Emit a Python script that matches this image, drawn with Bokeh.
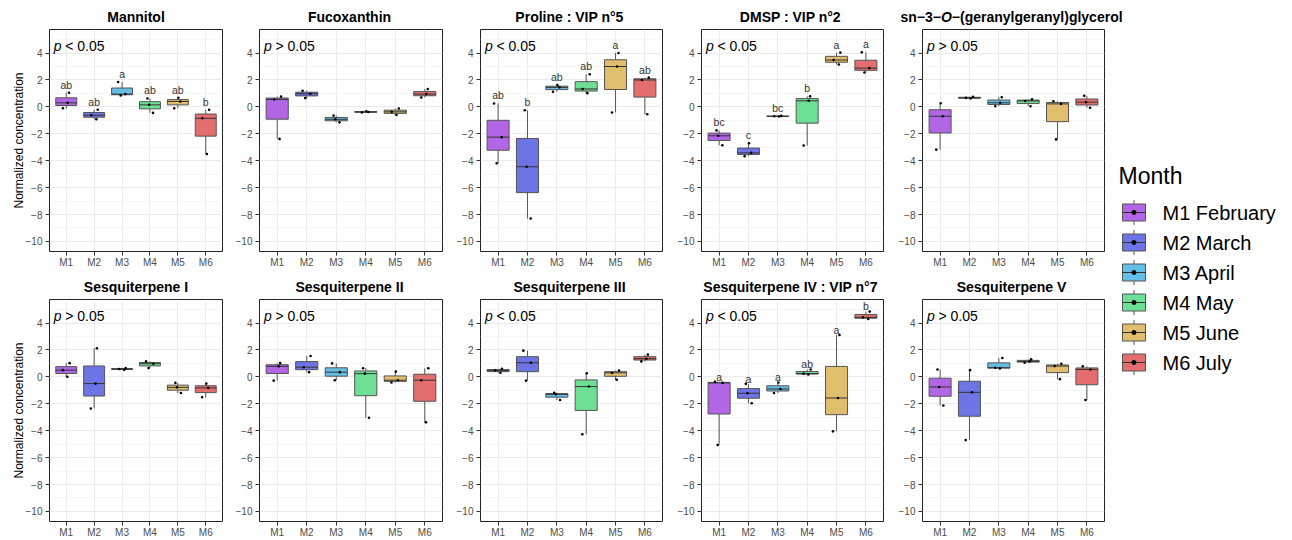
import numpy as np
from bokeh.plotting import figure
from bokeh.layouts import row, column
from bokeh.models import Range1d, FixedTicker, Label, ColumnDataSource
from bokeh.core.properties import value
from bokeh.embed import file_html
from bokeh.resources import INLINE

# ---------------- data ----------------
months = ["M1", "M2", "M3", "M4", "M5", "M6"]
month_names = ["M1 February", "M2 March", "M3 April", "M4 May", "M5 June", "M6 July"]
colors = ["#B266E6", "#6C74E6", "#64BEE6", "#6EE096", "#E1BE6E", "#E46E6E"]

titles = ["Mannitol", "Fucoxanthin", "Proline : VIP n°5", "DMSP : VIP n°2",
          "sn-3-O-(geranylgeranyl)glycerol",
          "Sesquiterpene I", "Sesquiterpene II", "Sesquiterpene III",
          "Sesquiterpene IV : VIP n°7", "Sesquiterpene V"]
p_texts = ["< 0.05", "> 0.05", "< 0.05", "< 0.05", "> 0.05",
           "> 0.05", "> 0.05", "< 0.05", "< 0.05", "> 0.05"]

mannitol = [[-0.10, 0.30, 1.05], [-0.92, -0.62, -0.22], [0.85, 0.95, 1.85],
            [-0.45, 0.15, 0.62], [-0.10, 0.40, 0.68], [-3.50, -0.85, -0.22]]
fucoxanthin = [[-2.38, 0.55, 0.76], [0.65, 0.98, 1.20], [-1.15, -0.92, -0.65],
               [-0.42, -0.38, -0.33], [-0.60, -0.37, -0.12], [0.70, 0.95, 1.32]]
proline = [[-4.20, -2.25, 0.25], [-8.30, -4.45, -0.25], [1.12, 1.45, 1.62],
           [1.02, 1.33, 2.42], [-0.42, 3.00, 4.00], [-0.55, 2.00, 2.17]]
dmsp = [[-2.85, -2.15, -1.75], [-3.67, -3.42, -2.70], [-0.72, -0.70, -0.67],
        [-2.87, 0.45, 0.78], [3.15, 3.48, 4.03], [2.55, 2.88, 4.05]]
geranyl = [[-3.18, -0.70, 0.27], [0.62, 0.67, 0.75], [0.05, 0.30, 0.72],
           [0.05, 0.44, 0.57], [-2.42, 0.22, 0.42], [-0.07, 0.35, 0.82]]
sesq1 = [[0.00, 0.50, 1.02], [-2.35, -0.50, 2.12], [0.52, 0.58, 0.65],
         [0.65, 0.98, 1.15], [-1.20, -0.78, -0.45], [-1.52, -0.82, -0.50]]
sesq2 = [[-0.28, 0.78, 1.02], [0.35, 0.72, 1.55], [-0.25, 0.35, 1.00],
         [-3.04, 0.24, 0.64], [-0.42, -0.25, 0.39], [-3.38, -0.25, 0.64]]
sesq3 = [[0.30, 0.48, 0.60], [-0.28, 1.05, 1.95], [-1.72, -1.30, -1.18],
         [-4.27, -0.72, 0.27], [-0.22, 0.30, 0.47], [1.15, 1.35, 1.65]]
sesq4 = [[-5.07, -0.45, -0.37], [-1.96, -1.22, -0.52], [-1.20, -0.90, -0.42],
         [0.18, 0.24, 0.55], [-4.05, -1.57, 3.12], [4.30, 4.42, 4.85]]
sesq5 = [[-2.13, -0.75, 0.55], [-4.70, -1.15, 0.50], [0.62, 0.68, 1.40],
         [1.05, 1.15, 1.30], [-0.17, 0.80, 0.97], [-1.72, 0.55, 0.78]]

mannitol_letters = ["ab", "ab", "a", "ab", "ab", "b"]
proline_letters = ["ab", "b", "ab", "ab", "a", "ab"]
dmsp_letters = ["bc", "c", "bc", "b", "a", "a"]
sesq4_letters = ["a", "a", "a", "ab", "a", "b"]

y_ticks = [-10, -8, -6, -4, -2, 0, 2, 4]
y_minor = [-9, -7, -5, -3, -1, 1, 3, 5]

# ---------------- style ----------------
FONT = "Liberation Sans"
JIT = [(-0.12, 0.05, 0.10), (0.08, -0.10, 0.13), (-0.05, 0.12, -0.14),
       (0.11, -0.03, -0.09), (-0.13, 0.09, 0.02), (0.04, -0.12, 0.12)]
FRAME_H = 225
TOP, BOTTOM = 2, 16
STRIP_H = 27
TOTAL_W, TOTAL_H = 1292, 540
PANELS_W = 1116


def panel(k, vals, ptext, letters, letter_off, left, fw, right, ylabel=False):
    p = figure(width=left + fw + right, height=TOP + FRAME_H + BOTTOM,
               x_range=Range1d(0.4, 6.6), y_range=Range1d(-10.75, 5.75),
               output_backend="svg", toolbar_location=None,
               min_border_left=left, min_border_right=right,
               min_border_top=TOP, min_border_bottom=BOTTOM)
    p.outline_line_color = "#222222"
    p.outline_line_width = 1
    p.background_fill_color = "white"
    p.border_fill_color = "white"

    # axes
    p.xaxis.ticker = FixedTicker(ticks=[1, 2, 3, 4, 5, 6])
    p.xaxis.major_label_overrides = {i + 1: m for i, m in enumerate(months)}
    p.yaxis.ticker = FixedTicker(ticks=y_ticks, minor_ticks=y_minor)
    p.yaxis.major_label_overrides = {t: str(t).replace("-", "\u2212") for t in y_ticks}
    for ax in (p.xaxis[0], p.yaxis[0]):
        ax.axis_line_color = None
        ax.major_tick_line_color = "#333333"
        ax.major_tick_out = 4
        ax.major_tick_in = 0
        ax.minor_tick_line_color = None
        ax.major_label_text_font = FONT
        ax.major_label_text_font_size = "10px"
        ax.major_label_text_color = "#4D4D4D"
    p.xaxis.major_label_standoff = 1
    p.yaxis.major_label_standoff = 3
    if ylabel:
        p.yaxis.axis_label = "Normalized concentration"
        p.yaxis.axis_label_text_font = FONT
        p.yaxis.axis_label_text_font_size = "12px"
        p.yaxis.axis_label_text_font_style = "normal"
        p.yaxis.axis_label_text_color = "black"
        p.yaxis.axis_label_standoff = -3

    # grid
    p.xgrid.ticker = FixedTicker(ticks=[1, 2, 3, 4, 5, 6])
    p.xgrid.grid_line_color = "#EBEBEB"
    p.ygrid.grid_line_color = "#EBEBEB"
    p.ygrid.minor_grid_line_color = "#F0F0F0"
    p.ygrid.minor_grid_line_width = 0.7

    # box statistics
    arr = np.array(vals, dtype=float)
    q1 = np.percentile(arr, 25, axis=1)
    med = np.percentile(arr, 50, axis=1)
    q3 = np.percentile(arr, 75, axis=1)
    lo = arr.min(axis=1)
    hi = arr.max(axis=1)
    xs = np.arange(1, 7)
    hw = 0.375
    src = ColumnDataSource(dict(x=xs, q1=q1, med=med, q3=q3, lo=lo, hi=hi,
                                xl=xs - hw, xr=xs + hw, color=colors))
    p.segment(x0="x", y0="lo", x1="x", y1="q1", source=src, line_color="#555555", line_width=1)
    p.segment(x0="x", y0="q3", x1="x", y1="hi", source=src, line_color="#555555", line_width=1)
    p.vbar(x="x", width=2 * hw, bottom="q1", top="q3", source=src,
           fill_color="color", fill_alpha=1.0, line_color="#555555", line_width=1)
    p.segment(x0="xl", y0="med", x1="xr", y1="med", source=src, line_color="#333333", line_width=1)

    # jittered points
    px, py = [], []
    for g in range(6):
        js = JIT[(g + k) % 6]
        for j, v in enumerate(sorted(vals[g])):
            px.append(xs[g] + js[j])
            py.append(v)
    p.scatter(px, py, size=2.6, color="black", line_width=0)

    # significance letters
    if letters is not None:
        p.text(x=xs, y=hi + letter_off, text=letters, text_font=value(FONT),
               text_font_size="10.5px", text_color="#333333",
               text_align="center", text_baseline="middle")

    # p-value text
    p.add_layout(Label(x=0.55, y=4.5, text="p", text_font=FONT, text_font_size="14px",
                       text_font_style="italic", text_align="left", text_baseline="middle",
                       text_color="black"))
    p.add_layout(Label(x=0.55, y=4.5, x_offset=11.5, text=ptext, text_font=FONT,
                       text_font_size="14px", text_align="left", text_baseline="middle",
                       text_color="black"))
    return p


def title_strip(row_titles, centers, width):
    s = figure(width=width, height=STRIP_H, x_range=Range1d(0, width),
               y_range=Range1d(STRIP_H, 0), output_backend="svg", toolbar_location=None,
               min_border=0, x_axis_location=None, y_axis_location=None)
    s.outline_line_color = None
    s.grid.visible = False
    ty = 16.7
    for t, cx in zip(row_titles, centers):
        if t.startswith("sn-3-O-"):
            w1, wO, w3 = 2.891 * 14, 0.778 * 14, 12.199 * 14
            start = cx - (w1 + wO + w3) / 2
            s.text(x=[start + w1], y=[ty], text=["sn\u22123\u2212"], text_font=value(FONT),
                   text_font_size="14px", text_font_style="bold", text_align="right",
                   text_baseline="middle", text_color="black")
            s.text(x=[start + w1], y=[ty], text=["O"], text_font=value(FONT),
                   text_font_size="14px", text_font_style="bold italic", text_align="left",
                   text_baseline="middle", text_color="black")
            s.text(x=[start + w1 + wO], y=[ty], text=["\u2212(geranylgeranyl)glycerol"],
                   text_font=value(FONT), text_font_size="14px", text_font_style="bold",
                   text_align="left", text_baseline="middle", text_color="black")
        else:
            s.text(x=[cx], y=[ty], text=[t], text_font=value(FONT), text_font_size="14px",
                   text_font_style="bold", text_align="center", text_baseline="middle",
                   text_color="black")
    return s


panels_data = [mannitol, fucoxanthin, proline, dmsp, geranyl,
               sesq1, sesq2, sesq3, sesq4, sesq5]
panel_letters = [mannitol_letters, None, proline_letters, dmsp_letters, None,
                 None, None, None, sesq4_letters, None]
letter_offsets = [0.6, 0, 0.6, 0.6, 0, 0, 0, 0, 0.38, 0]
col_geom = [(49, 173, 10), (24, 186, 11), (23, 186, 12), (23, 186, 12), (23, 186, 12)]

centers = []
xpos = 0
for l, fw, r in col_geom:
    centers.append(xpos + l + fw / 2)
    xpos += l + fw + r

figs = []
for k in range(10):
    c = k % 5
    l, fw, r = col_geom[c]
    figs.append(panel(k, panels_data[k], p_texts[k], panel_letters[k],
                      letter_offsets[k], l, fw, r, ylabel=(c == 0)))

strip1 = title_strip(titles[:5], centers, TOTAL_W)
strip2 = title_strip(titles[5:], centers, PANELS_W)

# ---------------- legend ----------------
LG_W = TOTAL_W - PANELS_W
lg = figure(width=LG_W, height=TOTAL_H - STRIP_H, x_range=Range1d(PANELS_W, TOTAL_W),
            y_range=Range1d(TOTAL_H, STRIP_H),
            output_backend="svg", toolbar_location=None, min_border=0,
            x_axis_location=None, y_axis_location=None)
lg.outline_line_color = None
lg.grid.visible = False
ys = np.array([212 + 30 * i for i in range(6)], dtype=float)
kx = 1133.5
lg.segment(x0=kx, y0=ys - 12.5, x1=kx, y1=ys + 12.5, line_color="#555555", line_width=1)
lg.rect(x=kx, y=ys, width=23, height=17, fill_color=colors, line_color="#555555", line_width=1)
lg.segment(x0=kx - 11.5, y0=ys, x1=kx + 11.5, y1=ys, line_color="#333333", line_width=1)
lg.scatter(x=kx, y=ys, size=5, color="black", line_width=0)
lg.text(x=1162, y=ys, text=month_names, text_font=value(FONT), text_font_size="20px",
        text_color="black", text_align="left", text_baseline="middle")
lg.text(x=[1118], y=[175], text=["Month"], text_font=value(FONT), text_font_size="23px",
        text_color="black", text_align="left", text_baseline="middle")

layout = column(strip1,
                row(column(row(*figs[:5]), strip2, row(*figs[5:])), lg))
open("out.html", "w").write(file_html(layout, INLINE))
